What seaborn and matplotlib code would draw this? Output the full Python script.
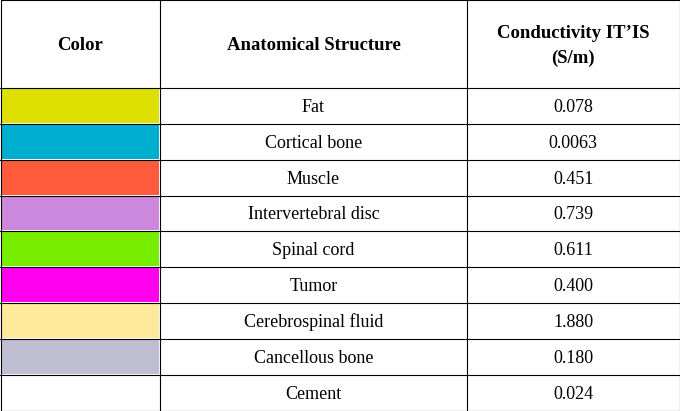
import matplotlib
matplotlib.use("Agg")
import matplotlib.pyplot as plt
import seaborn as sns
from matplotlib.patches import Rectangle

sns.set_theme(style="white")
plt.rcParams['font.family'] = ['Liberation Serif', 'DejaVu Serif']
plt.rcParams['text.color'] = 'black'

headers = ["Color", "Anatomical Structure", "Conductivity IT\u2019IS\n(S/m)"]
structures = ["Fat", "Cortical bone", "Muscle", "Intervertebral disc", "Spinal cord",
              "Tumor", "Cerebrospinal fluid", "Cancellous bone", "Cement"]
conductivity = ["0.078", "0.0063", "0.451", "0.739", "0.611", "0.400", "1.880", "0.180", "0.024"]
colors = ["#DDE000", "#00AECF", "#FF5A3C", "#CC88DD", "#77EE00",
          "#FF00EE", "#FFE99A", "#C0BED2", "#FFFFFF"]

W, H = 680, 411
fig = plt.figure(figsize=(W/100, H/100), dpi=100)
ax = fig.add_axes([0, 0, 1, 1])
ax.set_xlim(0, W); ax.set_ylim(H, 0); ax.axis("off")

cols = [0.5, 160, 467, 679.5]
head_h = 88
n = len(structures)
row_h = (410.5 - head_h) / n

for i, h in enumerate(headers):
    ax.text((cols[i]+cols[i+1])/2, head_h/2 + 2, h, ha="center", va="center",
            fontsize=13.5, fontweight="bold", linespacing=1.6, color="black")

for r in range(n):
    y = head_h + r*row_h
    ax.add_patch(Rectangle((cols[0]+1, y+1), cols[1]-cols[0]-2, row_h-2,
                           facecolor=colors[r], edgecolor="none"))
    ax.text((cols[1]+cols[2])/2, y+row_h/2 + 1.5, structures[r], ha="center", va="center",
            fontsize=13, color="black")
    ax.text((cols[2]+cols[3])/2, y+row_h/2 + 1.5, conductivity[r], ha="center", va="center",
            fontsize=13, color="black")

lc = "#000000"
ax.plot([0.5, 679.5, 679.5, 0.5, 0.5], [0.5, 0.5, 410.5, 410.5, 0.5], color=lc, lw=0.8)
for x in cols[1:3]:
    ax.plot([x, x], [0, H], color=lc, lw=0.8)
for r in range(n):
    y = head_h + r*row_h
    ax.plot([0, W], [y, y], color=lc, lw=0.8)

fig.savefig("out.png", dpi=100)
